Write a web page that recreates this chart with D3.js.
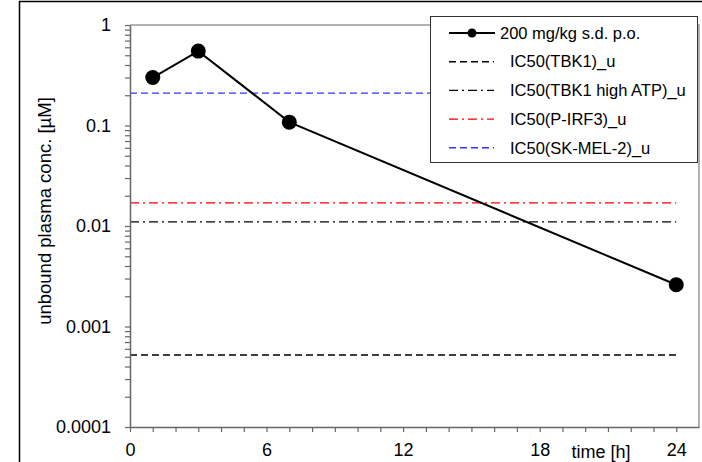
<!DOCTYPE html>
<html>
<head>
<meta charset="utf-8">
<script src="https://cdn.jsdelivr.net/npm/d3@7"></script>
<style>
  body { margin: 0; background: #fff; }
  svg text { font-family: "Liberation Sans", Arial, sans-serif; fill: #000; }
</style>
</head>
<body>
<div id="chart"></div>
<script>
// data
const time = [1, 3, 7, 24];
const conc = [0.30, 0.55, 0.108, 0.0026];
const seriesName = "200 mg/kg s.d. p.o.";

const refNames = ["IC50(TBK1)_u", "IC50(TBK1 high ATP)_u", "IC50(P-IRF3)_u", "IC50(SK-MEL-2)_u"];
const refValues = [0.00052, 0.011, 0.017, 0.21];

const yTickLabels = ["0.0001", "0.001", "0.01", "0.1", "1"];
const xTickLabels = [0, 6, 12, 18, 24];

// styles for the reference lines
const refColor = ["#000", "#000", "#ff0000", "#3333ff"];
const refDash = ["7,4", "9,4,2,4", "9,4,2,4", "7,4"];

const width = 702, height = 462;

var svg = d3.select("#chart").append("svg")
    .attr("width", width).attr("height", height);

// outer frame
svg.append("rect")
    .attr("x", 19.5).attr("y", 1.5)
    .attr("width", 700).attr("height", 480)
    .attr("fill", "none").attr("stroke", "#000").attr("stroke-width", 1.5);

var x = d3.scaleLinear().domain([0, 25]).range([130, 699]);
var y = d3.scaleLog().domain([0.0001, 1]).range([427, 25]);

// top / right border of plot area
svg.append("path")
    .attr("d", `M${x(0)},${y(1)}H${x(25)}V${y(0.0001)}`)
    .attr("fill", "none").attr("stroke", "#999").attr("stroke-width", 1.5);

// reference lines
refValues.forEach((v, i) => {
    svg.append("line")
        .attr("x1", x(0)).attr("x2", x(24))
        .attr("y1", y(v)).attr("y2", y(v))
        .attr("stroke", refColor[i])
        .attr("stroke-width", 1.4)
        .attr("stroke-dasharray", refDash[i]);
});

// data line + markers
var line = d3.line().x((d, i) => x(time[i])).y(d => y(d));
svg.append("path")
    .datum(conc)
    .attr("d", line)
    .attr("fill", "none").attr("stroke", "#000").attr("stroke-width", 2);

svg.selectAll("circle.pt")
    .data(conc)
    .enter().append("circle")
    .attr("class", "pt")
    .attr("cx", (d, i) => x(time[i]))
    .attr("cy", d => y(d))
    .attr("r", 7.5)
    .attr("fill", "#000");

// y axis
var yTicks = [];
for (let e = -4; e <= 0; e++) {
    for (let m = 1; m <= 9; m++) {
        const v = m * Math.pow(10, e);
        if (v <= 1.0000001) yTicks.push(v);
    }
}
var yAxis = d3.axisLeft(y)
    .tickValues(yTicks)
    .tickSize(5)
    .tickSizeOuter(0)
    .tickPadding(14)
    .tickFormat(d => {
        const k = Math.round(Math.log10(d));
        return Math.abs(d - Math.pow(10, k)) < 1e-12 ? yTickLabels[k + 4] : "";
    });
var gy = svg.append("g").attr("transform", `translate(${x(0)},0)`).call(yAxis);
gy.select(".domain").attr("stroke", "#666").attr("stroke-width", 1.5);
gy.selectAll(".tick line").attr("stroke", "#666").attr("stroke-width", 1.2);
gy.selectAll(".tick text").style("font-size", "18px");

// x axis
var xAxis = d3.axisBottom(x)
    .tickValues(d3.range(0, 25))
    .tickSize(5)
    .tickSizeOuter(0)
    .tickPadding(11)
    .tickFormat(d => xTickLabels.includes(d) ? d : "");
var gx = svg.append("g").attr("transform", `translate(0,${y(0.0001)})`).call(xAxis);
gx.select(".domain").attr("stroke", "#666").attr("stroke-width", 1.5);
gx.selectAll(".tick line").attr("stroke", "#666").attr("stroke-width", 1.2);
gx.selectAll(".tick text").style("font-size", "18px");

// axis titles
svg.append("text")
    .attr("x", 601).attr("y", 458)
    .attr("text-anchor", "middle")
    .style("font-size", "18px")
    .text("time [h]");

svg.append("text")
    .attr("transform", "translate(51,211) rotate(-90)")
    .attr("text-anchor", "middle")
    .style("font-size", "18.5px")
    .text("unbound plasma conc. [µM]");

// legend
var lg = svg.append("g");
lg.append("rect")
    .attr("x", 430.5).attr("y", 16.5)
    .attr("width", 267).attr("height", 146)
    .attr("fill", "#fff").attr("stroke", "#333").attr("stroke-width", 1);

var rowY = d3.range(5).map(i => 33 + i * 28.7);

lg.append("line")
    .attr("x1", 449).attr("x2", 495)
    .attr("y1", rowY[0]).attr("y2", rowY[0])
    .attr("stroke", "#000").attr("stroke-width", 2);
lg.append("circle")
    .attr("cx", 472).attr("cy", rowY[0]).attr("r", 4.5).attr("fill", "#000");
lg.append("text")
    .attr("x", 500).attr("y", rowY[0]).attr("dy", "0.35em")
    .style("font-size", "16.5px")
    .text(seriesName);

refNames.forEach((name, i) => {
    const yy = rowY[i + 1];
    lg.append("line")
        .attr("x1", 449).attr("x2", 494)
        .attr("y1", yy).attr("y2", yy)
        .attr("stroke", refColor[i])
        .attr("stroke-width", 1.4)
        .attr("stroke-dasharray", refDash[i]);
    lg.append("text")
        .attr("x", 510).attr("y", yy).attr("dy", "0.35em")
        .style("font-size", "16.5px")
        .text(name);
});
</script>
</body>
</html>
